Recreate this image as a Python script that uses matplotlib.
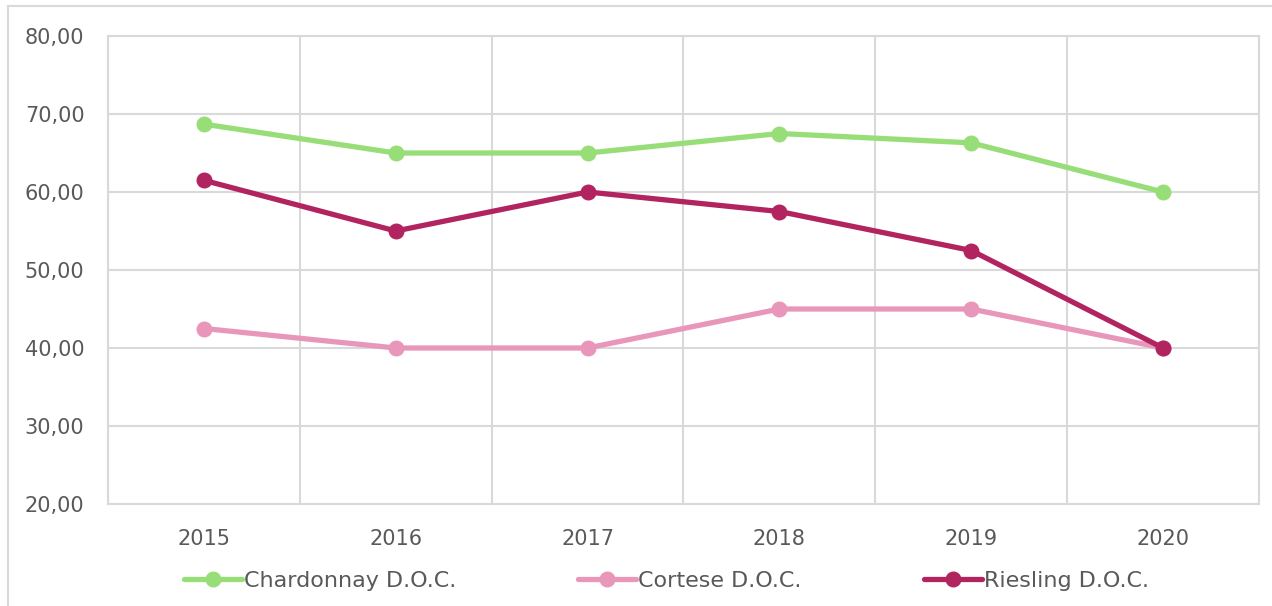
import matplotlib
matplotlib.use("Agg")
import matplotlib.pyplot as plt
from matplotlib.lines import Line2D
from matplotlib.ticker import FuncFormatter, FixedLocator

years = ["2015", "2016", "2017", "2018", "2019", "2020"]
chardonnay = [68.7, 65.0, 65.0, 67.5, 66.3, 60.0]
cortese = [42.5, 40.0, 40.0, 45.0, 45.0, 40.0]
riesling = [61.5, 55.0, 60.0, 57.5, 52.5, 40.0]

series = [
    ("Chardonnay D.O.C.", chardonnay, "#98DE78"),
    ("Cortese D.O.C.", cortese, "#E897BB"),
    ("Riesling D.O.C.", riesling, "#B1245F"),
]

plt.rcParams['font.family'] = ['DejaVu Sans']
W, H = 1272, 606
fig = plt.figure(figsize=(W / 100, H / 100), dpi=100)
ax = fig.add_axes([108 / W, 1 - 504 / H, (1259 - 108) / W, (504 - 36) / H])

x = list(range(len(years)))
for name, vals, col in series:
    ax.plot(x, vals, color=col, lw=3.8, marker="o", markersize=10.5,
            solid_capstyle="round", label=name, zorder=3)

grid_col = "#D9D9D9"
ax.set_xlim(-0.5, len(years) - 0.5)
ax.set_ylim(20, 80)
ax.set_yticks(range(20, 81, 10))
ax.yaxis.set_major_formatter(FuncFormatter(lambda v, p: f"{v:.2f}".replace(".", ",")))
ax.set_xticks(x)
ax.set_xticklabels(years)
ax.xaxis.set_minor_locator(FixedLocator([i - 0.5 for i in range(len(years) + 1)]))
ax.grid(axis="y", which="major", color=grid_col, lw=1.5)
ax.grid(axis="x", which="minor", color=grid_col, lw=1.5)
ax.set_axisbelow(True)
for s in ax.spines.values():
    s.set_color(grid_col)
    s.set_linewidth(1.5)
ax.tick_params(axis="both", which="both", length=0, labelsize=15, colors="#595959")
ax.tick_params(axis="y", pad=17)
ax.tick_params(axis="x", pad=18)

fig.legend(loc="center", bbox_to_anchor=(0.524, 1 - 581 / H), ncol=3, frameon=False,
           fontsize=16, labelcolor="#595959", handlelength=2.6, handletextpad=0.1,
           columnspacing=5.5)

# outer chart frame, partially visible
fig.add_artist(Line2D([8 / W, 8 / W], [0, 1 - 6 / H], color=grid_col, lw=1.5))
fig.add_artist(Line2D([8 / W, 1], [1 - 6 / H, 1 - 6 / H], color=grid_col, lw=1.5))

fig.savefig("out.png", dpi=100, facecolor="white")
